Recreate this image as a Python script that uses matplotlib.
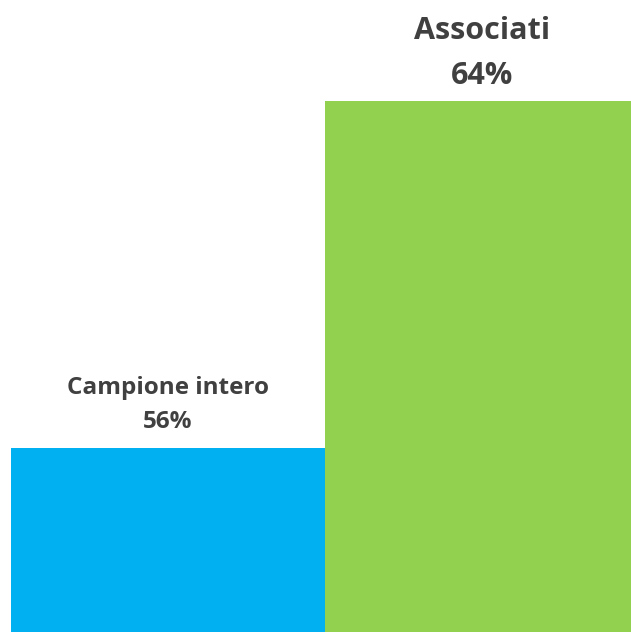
import matplotlib
matplotlib.use('Agg')
import matplotlib.pyplot as plt

plt.rc('font', family='Open Sans')

categories = ['Campione intero', 'Associati']
values = [56, 64]
colors = ['#00B0F0', '#92D050']
label_sizes = [17.5, 22]
line_gaps = [1.56, 1.68]
label_pads = [10, 7]

fig = plt.figure(figsize=(6.31, 6.32), dpi=100)
ax = fig.add_axes([11 / 631, 0, 620 / 631, 1])

x = range(len(values))
ax.bar(x, values, width=1.0, color=colors, linewidth=0)
ax.set_xlim(-0.5, 1.474)
ax.set_ylim(51.76, 66.33)
ax.axis('off')

for xi, cat, v, fs, ls, pad in zip(x, categories, values, label_sizes,
                                   line_gaps, label_pads):
    ax.annotate(cat + '\n' + str(v) + '%', xy=(xi, v), xytext=(0, pad),
                textcoords='offset points', ha='center', va='bottom',
                fontsize=fs, fontweight='bold', color='#404040',
                linespacing=ls)

fig.savefig('out.png', dpi=100)
